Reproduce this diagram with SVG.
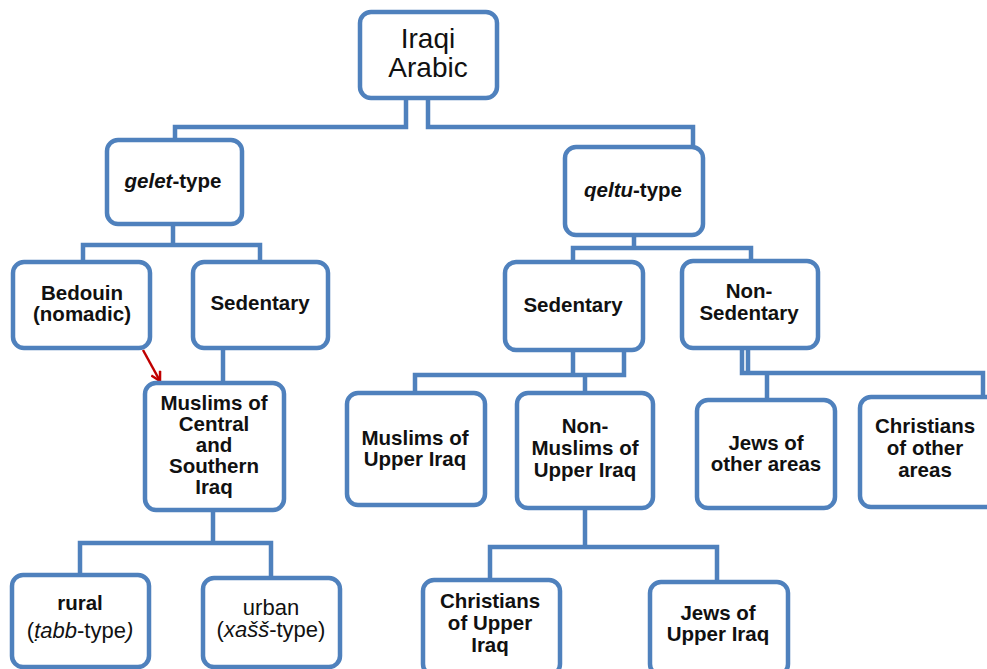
<svg xmlns="http://www.w3.org/2000/svg" width="987" height="669" viewBox="0 0 987 669">
<style>
.box{fill:#fff;stroke:#4F81BD;stroke-width:4.5}
.c{fill:none;stroke:#4F81BD;stroke-width:4.5;stroke-linejoin:miter}
.t{font-family:"Liberation Sans",Arial,sans-serif;font-size:20.5px;font-weight:bold;fill:#111;text-anchor:middle}
.r{font-family:"Liberation Sans",Arial,sans-serif;font-size:22px;fill:#111;text-anchor:middle}
.big{font-family:"Liberation Sans",Arial,sans-serif;font-size:28px;fill:#111;text-anchor:middle}
.i{font-style:italic}
</style>
<defs>
<marker id="ah" markerWidth="12" markerHeight="12" refX="10" refY="6" orient="auto" markerUnits="userSpaceOnUse">
<polyline points="1,1 10,6 1,11" fill="none" stroke="#C00000" stroke-width="2.5"/>
</marker>
</defs>
<g id="connectors">
<path class="c" d="M406,98 V127 H175 V140"/>
<path class="c" d="M428,98 V127 H693 V147"/>
<path class="c" d="M173,224 V245 H83 V262 M173,245 H260 V262"/>
<path class="c" d="M223,348 V383"/>
<path class="c" d="M213,510 V543 H80 V575 M213,543 H271 V578"/>
<path class="c" d="M634,235 V248 H573 V262 M634,248 H751 V261"/>
<path class="c" d="M573,350 V374 M624,350 V375 H415 V393 M585,375 V393"/>
<path class="c" d="M742,348 V373 H983 V397 M748,348 V373 M767,373 V400"/>
<path class="c" d="M585,508 V547 H490 V580 M585,547 H717 V582"/>
<line x1="143" y1="350" x2="160" y2="381" stroke="#C00000" stroke-width="2.5" marker-end="url(#ah)"/>
</g>
<g id="iraqi-arabic"><rect class="box" x="360" y="12" width="137" height="86" rx="11"/><text class="big" x="428" y="48">Iraqi</text><text class="big" x="428" y="77">Arabic</text></g>
<g id="gelet"><rect class="box" x="107" y="140" width="135" height="84" rx="11"/><text class="t" x="173" y="188"><tspan class="i">gelet</tspan>-type</text></g>
<g id="bedouin"><rect class="box" x="13" y="262" width="137" height="86" rx="11"/><text class="t" x="82" y="300">Bedouin</text><text class="t" x="82" y="321">(nomadic)</text></g>
<g id="sedentary-l"><rect class="box" x="193" y="262" width="135" height="86" rx="11"/><text class="t" x="260" y="310">Sedentary</text></g>
<g id="muslims-central"><rect class="box" x="145" y="383" width="139" height="127" rx="11"/><text class="t" x="214" y="410">Muslims of</text><text class="t" x="214" y="431">Central</text><text class="t" x="214" y="452">and</text><text class="t" x="214" y="473">Southern</text><text class="t" x="214" y="494">Iraq</text></g>
<g id="rural"><rect class="box" x="12" y="575" width="137" height="92" rx="11"/><text class="t" x="80" y="610">rural</text><text class="r" x="80" y="638">(<tspan class="i">ṭabb</tspan>-type<tspan class="i">)</tspan></text></g>
<g id="urban"><rect class="box" x="203" y="578" width="137" height="89" rx="11"/><text class="r" x="271" y="615">urban</text><text class="r" x="271" y="637">(<tspan class="i">xašš</tspan>-type)</text></g>
<g id="qeltu"><rect class="box" x="565" y="147" width="138" height="88" rx="11"/><text class="t" x="633" y="197"><tspan class="i">qeltu</tspan>-type</text></g>
<g id="sedentary-r"><rect class="box" x="505" y="262" width="138" height="88" rx="11"/><text class="t" x="573" y="312">Sedentary</text></g>
<g id="non-sedentary"><rect class="box" x="682" y="261" width="136" height="87" rx="11"/><text class="t" x="749" y="298">Non-</text><text class="t" x="749" y="320">Sedentary</text></g>
<g id="muslims-upper"><rect class="box" x="347" y="393" width="138" height="112" rx="11"/><text class="t" x="415" y="445">Muslims of</text><text class="t" x="415" y="466">Upper Iraq</text></g>
<g id="non-muslims-upper"><rect class="box" x="517" y="393" width="136" height="115" rx="11"/><text class="t" x="585" y="433">Non-</text><text class="t" x="585" y="455">Muslims of</text><text class="t" x="585" y="477">Upper Iraq</text></g>
<g id="jews-other"><rect class="box" x="697" y="400" width="138" height="108" rx="11"/><text class="t" x="766" y="450">Jews of</text><text class="t" x="766" y="471">other areas</text></g>
<g id="christians-other"><rect class="box" x="860" y="397" width="140" height="110" rx="11"/><text class="t" x="925" y="433">Christians</text><text class="t" x="925" y="455">of other</text><text class="t" x="925" y="477">areas</text></g>
<g id="christians-upper"><rect class="box" x="423" y="580" width="137" height="95" rx="11"/><text class="t" x="490" y="608">Christians</text><text class="t" x="490" y="630">of Upper</text><text class="t" x="490" y="652">Iraq</text></g>
<g id="jews-upper"><rect class="box" x="650" y="582" width="138" height="93" rx="11"/><text class="t" x="718" y="620">Jews of</text><text class="t" x="718" y="641">Upper Iraq</text></g>
</svg>
